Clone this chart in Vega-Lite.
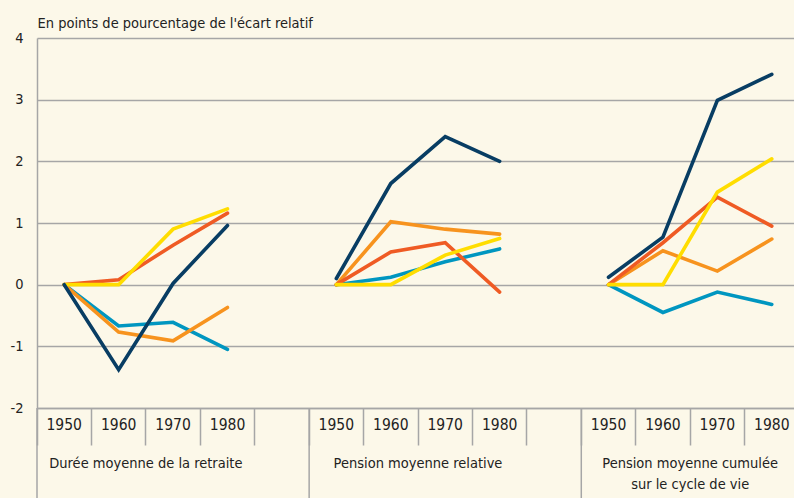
{
  "$schema": "https://vega.github.io/schema/vega-lite/v6.json",
  "width": 762,
  "height": 370,
  "autosize": {"type": "none"},
  "padding": {"left": 37, "top": 38, "right": 0, "bottom": 90},
  "background": "#FCF8E9",
  "config": {
    "view": {"stroke": null},
    "font": "DejaVu Sans Condensed, Liberation Sans, sans-serif",
    "text": {"font": "DejaVu Sans Condensed, Liberation Sans, sans-serif"}
  },
  "datasets": {
    "lines": [
      {"slot": "A1950", "p": "A", "s": "teal", "v": 0},
      {"slot": "A1960", "p": "A", "s": "teal", "v": -0.67},
      {"slot": "A1970", "p": "A", "s": "teal", "v": -0.61},
      {"slot": "A1980", "p": "A", "s": "teal", "v": -1.05},
      {"slot": "A1950", "p": "A", "s": "orange", "v": 0},
      {"slot": "A1960", "p": "A", "s": "orange", "v": -0.77},
      {"slot": "A1970", "p": "A", "s": "orange", "v": -0.91},
      {"slot": "A1980", "p": "A", "s": "orange", "v": -0.37},
      {"slot": "A1950", "p": "A", "s": "red", "v": 0},
      {"slot": "A1960", "p": "A", "s": "red", "v": 0.08},
      {"slot": "A1970", "p": "A", "s": "red", "v": 0.64},
      {"slot": "A1980", "p": "A", "s": "red", "v": 1.16},
      {"slot": "A1950", "p": "A", "s": "yellow", "v": 0},
      {"slot": "A1960", "p": "A", "s": "yellow", "v": 0},
      {"slot": "A1970", "p": "A", "s": "yellow", "v": 0.9},
      {"slot": "A1980", "p": "A", "s": "yellow", "v": 1.23},
      {"slot": "A1950", "p": "A", "s": "navy", "v": 0},
      {"slot": "A1960", "p": "A", "s": "navy", "v": -1.38},
      {"slot": "A1970", "p": "A", "s": "navy", "v": 0.02},
      {"slot": "A1980", "p": "A", "s": "navy", "v": 0.96},
      {"slot": "B1950", "p": "B", "s": "teal", "v": 0},
      {"slot": "B1960", "p": "B", "s": "teal", "v": 0.12},
      {"slot": "B1970", "p": "B", "s": "teal", "v": 0.37},
      {"slot": "B1980", "p": "B", "s": "teal", "v": 0.58},
      {"slot": "B1950", "p": "B", "s": "orange", "v": 0},
      {"slot": "B1960", "p": "B", "s": "orange", "v": 1.02},
      {"slot": "B1970", "p": "B", "s": "orange", "v": 0.9},
      {"slot": "B1980", "p": "B", "s": "orange", "v": 0.82},
      {"slot": "B1950", "p": "B", "s": "red", "v": 0},
      {"slot": "B1960", "p": "B", "s": "red", "v": 0.53},
      {"slot": "B1970", "p": "B", "s": "red", "v": 0.68},
      {"slot": "B1980", "p": "B", "s": "red", "v": -0.12},
      {"slot": "B1950", "p": "B", "s": "yellow", "v": 0},
      {"slot": "B1960", "p": "B", "s": "yellow", "v": 0},
      {"slot": "B1970", "p": "B", "s": "yellow", "v": 0.48},
      {"slot": "B1980", "p": "B", "s": "yellow", "v": 0.75},
      {"slot": "B1950", "p": "B", "s": "navy", "v": 0.1},
      {"slot": "B1960", "p": "B", "s": "navy", "v": 1.64},
      {"slot": "B1970", "p": "B", "s": "navy", "v": 2.4},
      {"slot": "B1980", "p": "B", "s": "navy", "v": 2.0},
      {"slot": "C1950", "p": "C", "s": "teal", "v": 0},
      {"slot": "C1960", "p": "C", "s": "teal", "v": -0.45},
      {"slot": "C1970", "p": "C", "s": "teal", "v": -0.12},
      {"slot": "C1980", "p": "C", "s": "teal", "v": -0.32},
      {"slot": "C1950", "p": "C", "s": "orange", "v": 0},
      {"slot": "C1960", "p": "C", "s": "orange", "v": 0.55},
      {"slot": "C1970", "p": "C", "s": "orange", "v": 0.22},
      {"slot": "C1980", "p": "C", "s": "orange", "v": 0.74},
      {"slot": "C1950", "p": "C", "s": "red", "v": 0},
      {"slot": "C1960", "p": "C", "s": "red", "v": 0.68},
      {"slot": "C1970", "p": "C", "s": "red", "v": 1.42},
      {"slot": "C1980", "p": "C", "s": "red", "v": 0.95},
      {"slot": "C1950", "p": "C", "s": "yellow", "v": 0},
      {"slot": "C1960", "p": "C", "s": "yellow", "v": 0},
      {"slot": "C1970", "p": "C", "s": "yellow", "v": 1.5},
      {"slot": "C1980", "p": "C", "s": "yellow", "v": 2.04},
      {"slot": "C1950", "p": "C", "s": "navy", "v": 0.12},
      {"slot": "C1960", "p": "C", "s": "navy", "v": 0.77},
      {"slot": "C1970", "p": "C", "s": "navy", "v": 2.99},
      {"slot": "C1980", "p": "C", "s": "navy", "v": 3.41}
    ],
    "panels": [
      {"start": "A1950", "mid": "A1970", "name": "Durée moyenne de la retraite"},
      {"start": "B1950", "mid": "B1970", "name": "Pension moyenne relative"},
      {"start": "C1950", "mid": "C1970", "name": "Pension moyenne cumulée\nsur le cycle de vie"}
    ]
  },
  "layer": [
    {
      "data": {"name": "lines"},
      "mark": {"type": "line", "strokeWidth": 3.6, "strokeCap": "round", "strokeJoin": "miter"},
      "encoding": {
        "x": {
          "field": "slot",
          "type": "nominal",
          "scale": {
            "type": "band",
            "paddingInner": 0,
            "paddingOuter": 0,
            "domain": ["A1950", "A1960", "A1970", "A1980", "Agap", "B1950", "B1960", "B1970", "B1980", "Bgap", "C1950", "C1960", "C1970", "C1980"]
          },
          "axis": {
            "title": null,
            "labelExpr": "indexof(datum.value, 'gap') >= 0 ? '' : substring(datum.value, 1)",
            "bandPosition": 0,
            "labelAngle": 0,
            "labelAlign": "center",
            "labelBaseline": "top",
            "labelPadding": -28,
            "labelFontSize": 15.5,
            "labelColor": "#222222",
            "labelOverlap": false,
            "labelBound": false,
            "labelFlush": false,
            "ticks": true,
            "tickSize": 37,
            "tickColor": "#A6A6A6",
            "tickWidth": 1.5,
            "domain": true,
            "domainColor": "#A6A6A6",
            "domainWidth": 1.5,
            "grid": false
          }
        },
        "y": {
          "field": "v",
          "type": "quantitative",
          "scale": {"domain": [-2, 4], "nice": false, "zero": false},
          "axis": {
            "title": "En points de pourcentage de l'écart relatif",
            "titleAngle": 0,
            "titleX": 0,
            "titleY": -11,
            "titleAlign": "left",
            "titleBaseline": "alphabetic",
            "titleFontSize": 14.5,
            "titleFontWeight": "normal",
            "titleColor": "#222222",
            "values": [-2, -1, 0, 1, 2, 3, 4],
            "labelExpr": "'' + datum.value",
            "ticks": false,
            "labelPadding": 14,
            "labelFontSize": 14.5,
            "labelColor": "#222222",
            "domain": true,
            "domainColor": "#A6A6A6",
            "domainWidth": 1.5,
            "grid": true,
            "gridColor": "#A6A6A6",
            "gridWidth": 1.5
          }
        },
        "color": {
          "field": "s",
          "type": "nominal",
          "sort": ["teal", "orange", "red", "yellow", "navy"],
          "scale": {
            "domain": ["teal", "orange", "red", "yellow", "navy"],
            "range": ["#0096C0", "#F7931E", "#EF5B24", "#FFDD00", "#083D63"]
          },
          "legend": null
        },
        "detail": {"field": "p"},
        "order": {"field": "slot"}
      }
    },
    {
      "mark": {"type": "rule", "color": "#222222", "strokeWidth": 1.5},
      "encoding": {"y": {"datum": 0}}
    },
    {
      "data": {"name": "panels"},
      "mark": {"type": "rule", "color": "#A6A6A6", "strokeWidth": 1.5},
      "encoding": {
        "x": {"field": "start", "type": "nominal", "bandPosition": 0},
        "y": {"datum": -2},
        "y2": {"datum": -3.6}
      }
    },
    {
      "data": {"name": "panels"},
      "mark": {"type": "text", "fontSize": 14.5, "color": "#222222", "align": "center", "baseline": "alphabetic", "lineBreak": "\n", "lineHeight": 21},
      "encoding": {
        "x": {"field": "mid", "type": "nominal", "bandPosition": 0},
        "y": {"datum": -2.98},
        "text": {"field": "name"}
      }
    }
  ]
}
